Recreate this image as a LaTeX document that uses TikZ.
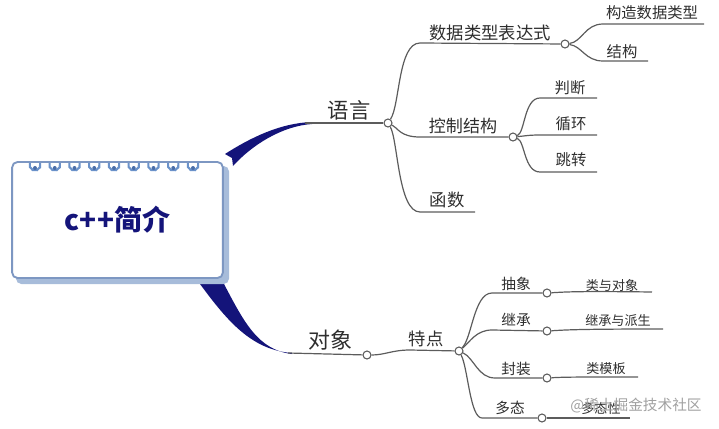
\documentclass[tikz,border=0pt]{standalone}
\usepackage{fontspec}
\setmainfont{Noto Sans CJK SC}
\definecolor{navy}{HTML}{14147A}
\definecolor{ln}{HTML}{5C5C5C}
\definecolor{txt}{HTML}{2E2E2E}
\definecolor{boxb}{HTML}{7D97C2}
\definecolor{shad}{HTML}{A7BCDA}
\definecolor{ring}{HTML}{6B92CA}
\definecolor{ringdot}{HTML}{4A6EA8}
\definecolor{wm}{HTML}{A0A0A0}
\newcommand\fsz[1]{\fontsize{#1}{#1}\selectfont}
\begin{document}
\begin{tikzpicture}[x=0.75pt,y=-0.75pt,
  br/.style={draw=ln, line width=0.9pt},
  dot/.style={circle, draw=ln, fill=white, line width=0.8pt, minimum size=6pt, inner sep=0pt},
  lbl/.style={text=txt, inner sep=0pt},
  taper/.style={fill=navy, draw=none}]
\useasboundingbox (0,0) rectangle (719,429);

% tapered connectors
\fill[taper] (225,154) .. controls (250,138) and (280,123) .. (312,122)
  -- (312,124) .. controls (282,126) and (252,145) .. (233,166)
  -- (232,158) -- cycle;
\fill[taper] (200,284) .. controls (228,322) and (252,350) .. (292,353)
  -- (292,354) .. controls (258,350) and (244,322) .. (224,284) -- cycle;

% box
\fill[shad, rounded corners=4pt] (16,166) rectangle (229,284);
\node[draw=boxb, line width=1.4pt, fill=white, rounded corners=4pt,
      minimum width=158pt, minimum height=87pt, inner sep=0pt,
      text=navy, font=\fsz{21}\bfseries] (box) at (117.5,220) {c++简介};
\foreach \i in {0,...,8} {
  \draw[ring, line width=1.6pt] ({35+\i*19.75},165) ++(-20:5.5) arc[start angle=-20, end angle=200, radius=5.5];
  \fill[ringdot] ({35+\i*19.75},168) circle[radius=2];
}

% ===== upper: 语言 =====
\node[lbl, font=\fsz{16}] (yy) at (349,110) {语言};
\node[dot] (A) at (388,123) {};
\coordinate (up) at (305,123);
\draw[br] (up) -- (A);

\node[lbl, font=\fsz{13}] (sjlx) at (490,33) {数据类型表达式};
\node[dot] (B) at (565,44) {};
\coordinate (b0) at (420,43);
\draw[br] (A) .. controls (400,105) and (398,43) .. (b0) -- (B);

\node[lbl, font=\fsz{11.5}] (gz) at (652,13) {构造数据类型};
\coordinate (gz0) at (603,24); \coordinate (gz1) at (704,24);
\draw[br] (B) .. controls (582,42) and (585,24) .. (gz0) -- (gz1);
\node[lbl, font=\fsz{11.5}] (jg) at (622,52) {结构};
\coordinate (jg0) at (603,61); \coordinate (jg1) at (648,61);
\draw[br] (B) .. controls (582,46) and (585,61) .. (jg0) -- (jg1);

\node[lbl, font=\fsz{12.8}] (kz) at (463,126) {控制结构};
\node[dot] (C) at (513,137) {};
\coordinate (c0) at (420,137);
\draw[br] (A) .. controls (398,128) and (400,137) .. (c0) -- (C);

\node[lbl, font=\fsz{11.5}] (pd) at (570,88) {判断};
\coordinate (pd0) at (540,98); \coordinate (pd1) at (597,98);
\draw[br] (C) .. controls (525,133) and (524,98) .. (pd0) -- (pd1);
\node[lbl, font=\fsz{11.5}] (xh) at (571,124) {循环};
\coordinate (xh0) at (540,135); \coordinate (xh1) at (597,135);
\draw[br] (C) .. controls (525,136) and (528,135) .. (xh0) -- (xh1);
\node[lbl, font=\fsz{11.5}] (tz) at (571,160) {跳转};
\coordinate (tz0) at (540,172); \coordinate (tz1) at (597,172);
\draw[br] (C) .. controls (525,141) and (524,172) .. (tz0) -- (tz1);

\node[lbl, font=\fsz{13}] (hs) at (447,200) {函数};
\coordinate (hs0) at (420,212); \coordinate (hs1) at (475,212);
\draw[br] (A) .. controls (398,140) and (398,212) .. (hs0) -- (hs1);

% ===== lower: 对象 =====
\node[lbl, font=\fsz{16.5}] (dx) at (330,340) {对象};
\node[dot] (D) at (367,355) {};
\coordinate (lo) at (288,353);
\draw[br] (lo) -- (D);

\node[lbl, font=\fsz{13}] (td) at (426,339) {特点};
\node[dot] (E) at (459,351) {};
\coordinate (e0) at (410,350);
\draw[br] (D) .. controls (385,355) and (392,350) .. (e0) -- (E);

\node[lbl, font=\fsz{11}] (cx) at (516,284) {抽象};
\node[dot] (F1) at (547,293) {};
\coordinate (f10) at (492,293);
\draw[br] (E) .. controls (472,338) and (474,293) .. (f10) -- (F1);
\node[lbl, font=\fsz{9.8}] (ly) at (612,286) {类与对象};
\coordinate (ly1) at (652,292);
\draw[br] (F1) .. controls (565,292) and (575,291) .. (ly1);

\node[lbl, font=\fsz{11}] (jc) at (516,320) {继承};
\node[dot] (F2) at (547,331) {};
\coordinate (f20) at (492,330);
\draw[br] (E) .. controls (470,342) and (476,330) .. (f20) -- (F2);
\node[lbl, font=\fsz{9.8}] (jp) at (618,321) {继承与派生};
\coordinate (jp1) at (663,329);
\draw[br] (F2) .. controls (565,330) and (575,329) .. (jp1);

\node[lbl, font=\fsz{11}] (fz) at (516,369) {封装};
\node[dot] (F3) at (547,378) {};
\coordinate (f30) at (495,378);
\draw[br] (E) .. controls (474,358) and (478,378) .. (f30) -- (F3);
\node[lbl, font=\fsz{9.8}] (lm) at (606,369) {类模板};
\coordinate (lm1) at (638,377);
\draw[br] (F3) .. controls (565,377) and (575,377) .. (lm1);

\node[lbl, font=\fsz{11}] (dt) at (510,408) {多态};
\node[dot] (F4) at (542,418) {};
\coordinate (f40) at (482,418);
\draw[br] (E) .. controls (468,368) and (470,418) .. (f40) -- (F4);
\node[lbl, font=\fsz{9.8}] (dtx) at (601,409) {多态性};
\coordinate (dtx1) at (630,418);
\draw[br] (F4) .. controls (560,418) and (575,418) .. (dtx1);

\node[text=wm, inner sep=0pt, font=\fsz{11}] (wmk) at (636,406) {@稀土掘金技术社区};
\end{tikzpicture}
\end{document}
